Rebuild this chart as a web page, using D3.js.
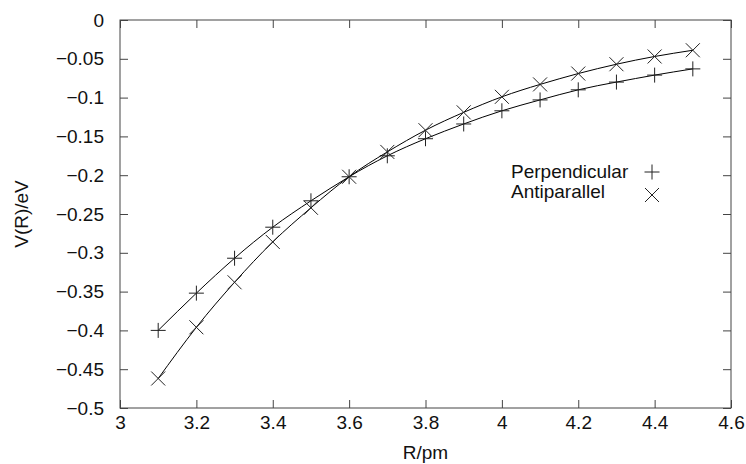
<!DOCTYPE html>
<html>
<head>
<meta charset="utf-8">
<style>
  body { margin: 0; background: #fff; }
  svg { font-family: "Liberation Sans", Arial, sans-serif; }
  .axis text { font-size: 19px; fill: #111; }
  .axis line { stroke: #444; }
  .label { font-size: 19px; fill: #111; }
</style>
</head>
<body>
<svg width="746" height="464"></svg>
<script src="https://d3js.org/d3.v7.min.js"></script>
<script>
  // R values (pm) shared by both series
  let rValues = [3.1, 3.2, 3.3, 3.4, 3.5, 3.6, 3.7, 3.8, 3.9, 4.0, 4.1, 4.2, 4.3, 4.4, 4.5]
  let perpendicular = [-0.400, -0.352, -0.307, -0.267, -0.233, -0.202, -0.175, -0.153, -0.134, -0.117, -0.103, -0.090, -0.080, -0.071, -0.063]
  let antiparallel = [-0.462, -0.396, -0.338, -0.286, -0.242, -0.202, -0.170, -0.142, -0.119, -0.099, -0.083, -0.069, -0.057, -0.047, -0.039]
  let xTicks = [3, 3.2, 3.4, 3.6, 3.8, 4, 4.2, 4.4, 4.6]
  let yTicks = [0, -0.05, -0.1, -0.15, -0.2, -0.25, -0.3, -0.35, -0.4, -0.45, -0.5]
  let seriesNames = ["Perpendicular", "Antiparallel"]

  let svg = d3.select("svg")
  let margin = {top: 20, right: 15, bottom: 56, left: 120}
  let width = 746, height = 464

  let x = d3.scaleLinear().domain([3, 4.6]).range([margin.left, width - margin.right])
  let y = d3.scaleLinear().domain([-0.5, 0]).range([height - margin.bottom, margin.top])

  let fmt = d3.format("~f")
  let tk = 8

  // frame
  svg.append("rect")
    .attr("x", x(3)).attr("y", y(0))
    .attr("width", x(4.6) - x(3)).attr("height", y(-0.5) - y(0))
    .attr("fill", "none").attr("stroke", "#444").attr("stroke-width", 1)

  // ticks pointing inward on all four sides
  let clean = g => g.select(".domain").remove()
  svg.append("g").attr("class", "axis")
    .attr("transform", `translate(${x(3)},0)`)
    .call(d3.axisLeft(y).tickValues(yTicks).tickFormat(fmt).tickSize(-tk).tickPadding(16))
    .call(clean)
  svg.append("g").attr("class", "axis")
    .attr("transform", `translate(${x(4.6)},0)`)
    .call(d3.axisRight(y).tickValues(yTicks).tickFormat("").tickSize(-tk))
    .call(clean)
  svg.append("g").attr("class", "axis")
    .attr("transform", `translate(0,${y(-0.5)})`)
    .call(d3.axisBottom(x).tickValues(xTicks).tickFormat(fmt).tickSize(-tk).tickPadding(8))
    .call(clean)
  svg.append("g").attr("class", "axis")
    .attr("transform", `translate(0,${y(0)})`)
    .call(d3.axisTop(x).tickValues(xTicks).tickFormat("").tickSize(-tk))
    .call(clean)

  // axis titles
  svg.append("text").attr("class", "label")
    .attr("x", (x(3) + x(4.6)) / 2).attr("y", 459)
    .attr("text-anchor", "middle").text("R/pm")
  svg.append("text").attr("class", "label")
    .attr("transform", `translate(28,${(y(0) + y(-0.5)) / 2}) rotate(-90)`)
    .attr("text-anchor", "middle").text("V(R)/eV")

  let line = d3.line()
    .x(d => x(d[0]))
    .y(d => y(d[1]))
    .curve(d3.curveNatural)

  let seriesData = [perpendicular, antiparallel].map(vals => rValues.map((r, i) => [r, vals[i]]))

  let plusPath = `M-7.5,0H7.5M0,-7.5V7.5`
  let crossPath = `M-7,-7L7,7M-7,7L7,-7`
  let markers = [plusPath, crossPath]

  seriesData.forEach((data, k) => {
    svg.append("path")
      .datum(data)
      .attr("d", line)
      .attr("fill", "none")
      .attr("stroke", "#000")
      .attr("stroke-width", 1)

    svg.append("g").selectAll("path")
      .data(data)
      .join("path")
      .attr("transform", d => `translate(${x(d[0])},${y(d[1])})`)
      .attr("d", markers[k])
      .attr("fill", "none")
      .attr("stroke", "#222")
      .attr("stroke-width", 1)
  })

  // legend: left-aligned names, marker on the right
  let legend = svg.append("g")
  let markerY = [172, 195]
  seriesNames.forEach((name, k) => {
    legend.append("text").attr("class", "label")
      .attr("x", 511).attr("y", 178 + k * 20)
      .text(name)
    legend.append("path")
      .attr("transform", `translate(652,${markerY[k]})`)
      .attr("d", markers[k])
      .attr("fill", "none").attr("stroke", "#222").attr("stroke-width", 1)
  })
</script>
</body>
</html>
